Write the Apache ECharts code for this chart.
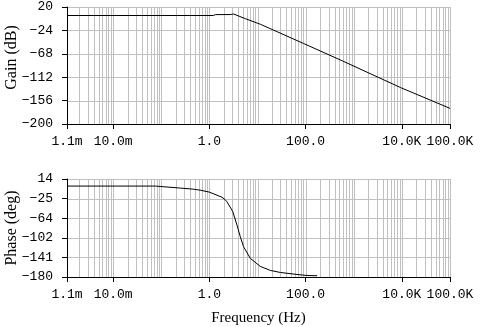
<!DOCTYPE html>
<html>
<head>
<meta charset="utf-8">
<script src="https://cdn.jsdelivr.net/npm/echarts@6/dist/echarts.min.js"></script>
<style>
  html, body { margin: 0; padding: 0; background: #ffffff; }
  #chart { width: 496px; height: 327px; }
</style>
</head>
<body>
<div id="chart"></div>
<script>
// Magnitude response: frequency (Hz) and gain (dB)
const gainFreq = [0.0011, 1.2, 1.35, 2.7, 2.9, 3.2, 5.6, 11.5, 90, 577, 9400, 100000];
const gainDb   = [4.0, 4.0, 5.7, 5.8, 8.0, 6.8, -2.0, -12.5, -48.5, -81.2, -131.5, -170.6];

// Phase response: frequency (Hz) and phase (deg)
const phaseFreq = [0.0011, 0.075, 0.08, 0.25, 0.45, 0.64, 1.0, 1.82, 2.13, 2.31, 3.05, 3.74, 4.38, 5.13, 7.08, 11.4, 18.5, 29.8, 66.4, 107, 173];
const phaseDeg  = [0, 0, -2, -4, -6, -8, -12, -22, -27, -31, -50, -77, -100, -120, -143, -159, -167, -171, -175, -177, -177.5];

// Frequency axis range and labelled ticks
const freqMin = 0.0011;
const freqMax = 100000;
const freqTicks = [0.0011, 0.01, 1, 100, 10000, 100000];
const freqTickLabels = ['1.1m', '10.0m', '1.0', '100.0', '10.0K', '100.0K'];

// Gain and phase axis ticks
const gainTicks = [-200, -156, -112, -68, -24, 20];
const phaseTicks = [-180, -141.2, -102.4, -63.6, -24.8, 14];

// Log grid: every 1..9 x 10^k inside the frequency range
const gridFreqs = [];
for (let k = -3; k <= 5; k++) {
  for (let m = 1; m <= 9; m++) {
    const f = Number((m * Math.pow(10, k)).toPrecision(6));
    if (f > freqMin && f <= freqMax) gridFreqs.push(f);
  }
}

const MONO = '"Liberation Mono", "Courier New", monospace';
const SERIF = '"Liberation Serif", "Times New Roman", serif';
const GRID_COLOR = '#c0c0c0';

function freqLabel(v) {
  for (let i = 0; i < freqTicks.length; i++) {
    if (Math.abs(v - freqTicks[i]) / freqTicks[i] < 1e-3) return freqTickLabels[i];
  }
  return '';
}
function signed(v) {
  const r = Math.round(v);
  return r < 0 ? '\u2212' + Math.abs(r) : String(r);
}

function xAxisFor(gridIndex, withName) {
  return {
    type: 'log', logBase: 10, gridIndex: gridIndex,
    min: freqMin, max: freqMax, z: 10,
    axisLine: { show: true, onZero: false, lineStyle: { color: '#000', width: 1 } },
    axisTick: { show: true, customValues: freqTicks, length: 5, lineStyle: { color: '#000' } },
    axisLabel: { customValues: freqTicks, formatter: freqLabel, fontFamily: MONO, fontSize: 13, color: '#000', margin: 11 },
    splitLine: { show: false },
    name: withName ? 'Frequency (Hz)' : '',
    nameLocation: 'middle', nameGap: 34, nameMoveOverlap: false,
    nameTextStyle: { fontFamily: SERIF, fontSize: 15, color: '#000' }
  };
}
function yAxisFor(gridIndex, min, max, ticks, name, pad) {
  return {
    type: 'value', gridIndex: gridIndex, min: min, max: max, z: 10,
    axisLine: { show: true, onZero: false, lineStyle: { color: '#000', width: 1 } },
    axisTick: { show: true, customValues: ticks, length: 5, lineStyle: { color: '#000' } },
    axisLabel: { customValues: ticks, formatter: signed, fontFamily: MONO, fontSize: 13, color: '#000', margin: 14 },
    splitLine: { show: false },
    name: name, nameLocation: 'middle', nameGap: 47, nameMoveOverlap: false,
    nameTextStyle: { fontFamily: SERIF, fontSize: 16, color: '#000', padding: pad }
  };
}

// Vertical log grid lines, positioned through the axis scale
function verticalGrid(gridIndex, yMin, yMax) {
  return {
    type: 'custom', xAxisIndex: gridIndex, yAxisIndex: gridIndex, silent: true, z: 1,
    data: gridFreqs.map(f => [f, yMin]),
    renderItem: function (params, api) {
      const f = api.value(0);
      const top = api.coord([f, yMax]);
      const bot = api.coord([f, yMin]);
      const x = Math.round(top[0]) + 0.5;
      return { type: 'line', shape: { x1: x, y1: top[1], x2: x, y2: bot[1] },
               style: { stroke: GRID_COLOR, lineWidth: 1 } };
    }
  };
}
// Horizontal grid lines at each value tick
function horizontalGrid(gridIndex, ticks, yMin) {
  return {
    type: 'custom', xAxisIndex: gridIndex, yAxisIndex: gridIndex, silent: true, z: 1,
    data: ticks.filter(v => v > yMin).map(v => [freqMin, v]),
    renderItem: function (params, api) {
      const v = api.value(1);
      const l = api.coord([freqMin, v]);
      const r = api.coord([freqMax, v]);
      const y = Math.round(l[1]) + 0.5;
      return { type: 'line', shape: { x1: l[0], y1: y, x2: r[0], y2: y },
               style: { stroke: GRID_COLOR, lineWidth: 1 } };
    }
  };
}

const chart = echarts.init(document.getElementById('chart'), null, { renderer: 'canvas' });
chart.setOption({
  animation: false,
  backgroundColor: '#ffffff',
  grid: [
    { left: 67, top: 7, width: 383, height: 117, containLabel: false, outerBoundsMode: 'none' },
    { left: 67, top: 179, width: 383, height: 98, containLabel: false, outerBoundsMode: 'none' }
  ],
  xAxis: [xAxisFor(0, false), xAxisFor(1, true)],
  yAxis: [
    yAxisFor(0, -200, 20, gainTicks, 'Gain (dB)', [0, 0, 0, 16]),
    yAxisFor(1, -180, 14, phaseTicks, 'Phase (deg)', [0, 0, 0, 0])
  ],
  series: [
    verticalGrid(0, -200, 20),
    horizontalGrid(0, gainTicks, -200),
    {
      type: 'line', xAxisIndex: 0, yAxisIndex: 0, z: 5,
      data: gainFreq.map((f, i) => [f, gainDb[i]]),
      symbol: 'none', silent: true,
      lineStyle: { color: '#000', width: 1 }
    },
    verticalGrid(1, -180, 14),
    horizontalGrid(1, phaseTicks, -180),
    {
      type: 'line', xAxisIndex: 1, yAxisIndex: 1, z: 5,
      data: phaseFreq.map((f, i) => [f, phaseDeg[i]]),
      symbol: 'none', silent: true,
      lineStyle: { color: '#000', width: 1 }
    }
  ]
});
</script>
</body>
</html>
